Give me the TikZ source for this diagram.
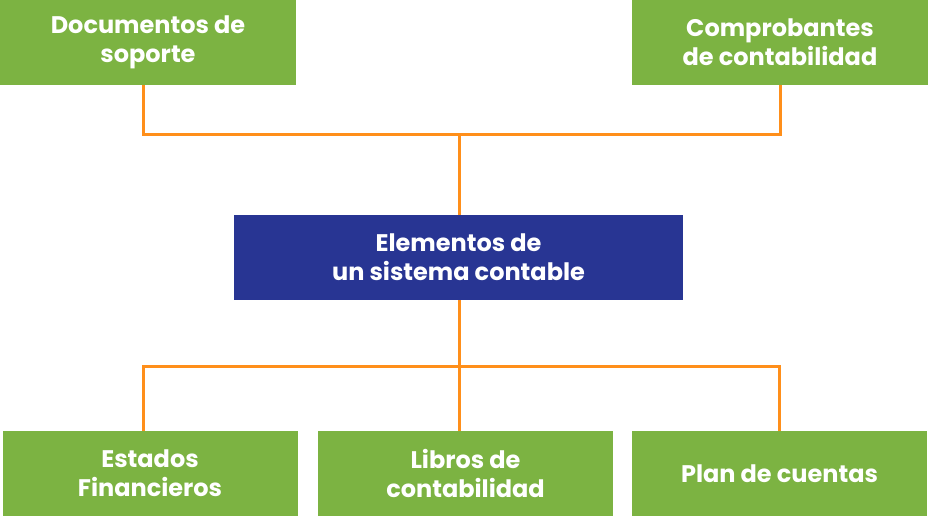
\documentclass[tikz,border=0pt]{standalone}
\usepackage{fontspec}
\setmainfont{Poppins}
\usepackage{xcolor}
\usetikzlibrary{positioning,calc}
\definecolor{leafgreen}{HTML}{7CB342}
\definecolor{coreblue}{HTML}{283593}
\definecolor{linkorange}{HTML}{FF8F1A}

\begin{document}
\begin{tikzpicture}[
  x=1pt,y=-1pt,
  link/.style={draw=linkorange,line width=3pt},
  leaf/.style={fill=leafgreen,text=white,minimum width=295pt,
    minimum height=85pt,inner sep=0pt,align=center},
  core/.style={fill=coreblue,text=white,minimum width=449pt,
    minimum height=85pt,inner sep=0pt,align=center},
  every node/.style={font=\fontsize{24}{29}\selectfont\bfseries}
]
  \useasboundingbox (0,0) rectangle (928,517);
  \node[leaf,minimum width=296pt] (support) at (148,42.5)
    {Documentos de\\soporte};
  \node[leaf,minimum width=296pt] (vouchers) at (780,42.5)
    {Comprobantes\\de contabilidad};
  \node[core] (elements) at (458.5,257.5)
    {Elementos de\\un sistema contable};
  \node[leaf] (statements) at (150,473.5)
    {Estados\\Financieros};
  \node[leaf] (books) at (465.5,473.5)
    {Libros de\\contabilidad};
  \node[leaf] (chart) at (779.5,473.5)
    {Plan de cuentas};
  \coordinate (uphub) at (459,134);
  \coordinate (downhub) at (459,366);

  \draw[link] ([xshift=-5pt]support.south) |- (uphub) -| (vouchers.south);
  \draw[link] (uphub) -- (uphub |- elements.north);
  \draw[link] (elements.south -| downhub) -- (downhub);
  \draw[link] ([xshift=-7pt]statements.north) |- (downhub)
    -| (chart.north);
  \draw[link] (downhub) -- (downhub |- books.north);
\end{tikzpicture}
\end{document}
